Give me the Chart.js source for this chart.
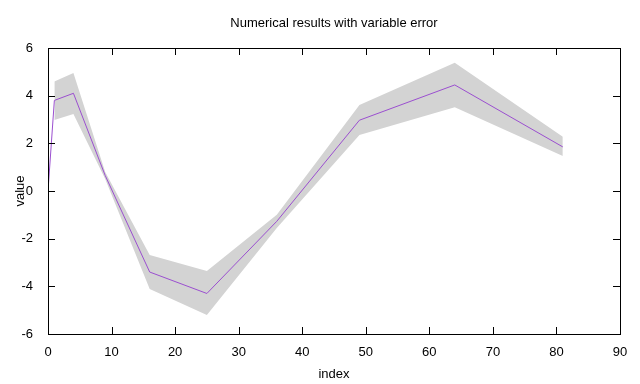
<!DOCTYPE html>
<html>
<head>
<meta charset="utf-8">
<script src="https://cdn.jsdelivr.net/npm/chart.js@4/dist/chart.umd.min.js"></script>
<style>
  html, body { margin: 0; padding: 0; background: #fff; }
  #wrap { width: 640px; height: 384px; }
</style>
</head>
<body>
<div id="wrap"><canvas id="grafico"></canvas></div>
<script>
// dados
const indices = [0, 1, 4, 9, 16, 25, 36, 49, 64, 81];
const valores = [0, 3.8, 4.1, 0.65, -3.4, -4.3, -1.27, 2.97, 4.45, 1.85];
const erroSup = [null, 4.59, 4.95, 0.8, -2.69, -3.36, -1.0, 3.61, 5.38, 2.28];
const erroInf = [null, 2.98, 3.23, 0.5, -4.11, -5.2, -1.55, 2.35, 3.51, 1.47];
const ticksX = [0, 10, 20, 30, 40, 50, 60, 70, 80, 90];
const ticksY = [-6, -4, -2, 0, 2, 4, 6];

const fonte = "'Liberation Sans', Arial, sans-serif";

function pares(ys) {
    let out = [];
    for (let i = 0; i < indices.length; i++) {
        out.push({ x: indices[i], y: ys[i] });
    }
    return out;
}

// moldura + ticks para dentro, estilo gnuplot
const moldura = {
    id: 'moldura',
    afterDraw(chart) {
        const ctx = chart.ctx;
        const a = chart.chartArea;
        const sx = chart.scales.x, sy = chart.scales.y;
        const tam = 7;
        ctx.save();
        ctx.strokeStyle = '#000';
        ctx.lineWidth = 1;
        ctx.beginPath();
        ticksX.forEach(v => {
            const px = Math.round(sx.getPixelForValue(v)) + 0.5;
            ctx.moveTo(px, a.bottom); ctx.lineTo(px, a.bottom - tam);
            ctx.moveTo(px, a.top); ctx.lineTo(px, a.top + tam);
        });
        ticksY.forEach(v => {
            const py = Math.round(sy.getPixelForValue(v)) + 0.5;
            ctx.moveTo(a.left, py); ctx.lineTo(a.left + tam, py);
            ctx.moveTo(a.right, py); ctx.lineTo(a.right - tam, py);
        });
        ctx.stroke();
        ctx.strokeRect(Math.round(a.left) + 0.5, Math.round(a.top) + 0.5,
            Math.round(a.right - a.left), Math.round(a.bottom - a.top));
        ctx.restore();
    }
};

const config = {
    type: 'line',
    data: {
        datasets: [
            {
                label: 'valor',
                data: pares(valores),
                borderColor: '#9b4fd0',
                borderWidth: 1,
                pointRadius: 0,
                fill: false,
                tension: 0,
                order: 0
            },
            {
                label: 'sup',
                data: pares(erroSup),
                borderWidth: 1,
                borderColor: 'rgba(211,211,211,0)',
                backgroundColor: '#d3d3d3',
                pointRadius: 0,
                fill: '+1',
                tension: 0,
                order: 1
            },
            {
                label: 'inf',
                data: pares(erroInf),
                borderWidth: 1,
                borderColor: 'rgba(211,211,211,0)',
                backgroundColor: 'rgba(211,211,211,0)',
                pointRadius: 0,
                fill: false,
                tension: 0,
                order: 2
            }
        ]
    },
    options: {
        responsive: true,
        maintainAspectRatio: false,
        animation: false,
        layout: { padding: { top: 0, right: 20, bottom: 0, left: 0 } },
        plugins: {
            legend: { display: false },
            tooltip: { enabled: false },
            title: {
                display: true,
                text: 'Numerical results with variable error',
                fullSize: false,
                color: '#000',
                font: { family: fonte, size: 13, weight: 'normal', lineHeight: 1.2 },
                padding: { top: 16, bottom: 16.4 }
            }
        },
        scales: {
            x: {
                type: 'linear',
                min: 0,
                max: 90,
                grid: { display: false },
                border: { display: false },
                afterFit(scale) { scale.height = 50; },
                afterBuildTicks(scale) { scale.ticks = ticksX.map(v => ({ value: v })); },
                ticks: {
                    color: '#000',
                    padding: 3,
                    maxRotation: 0,
                    font: { family: fonte, size: 13 }
                },
                title: {
                    display: true,
                    text: 'index',
                    color: '#000',
                    font: { family: fonte, size: 13, lineHeight: 1.2 },
                    padding: { top: 0, bottom: 1.5 }
                }
            },
            y: {
                type: 'linear',
                min: -6,
                max: 6,
                grid: { display: false },
                border: { display: false },
                afterFit(scale) { scale.width = 48; },
                afterBuildTicks(scale) { scale.ticks = ticksY.map(v => ({ value: v })); },
                ticks: {
                    color: '#000',
                    padding: 7,
                    font: { family: fonte, size: 13 }
                },
                title: {
                    display: true,
                    text: 'value',
                    color: '#000',
                    font: { family: fonte, size: 13, lineHeight: 1.2 },
                    padding: { top: 12.5, bottom: 0 }
                }
            }
        }
    },
    plugins: [moldura]
};

let grafico = new Chart(document.getElementById('grafico').getContext('2d'), config);
</script>
</body>
</html>
